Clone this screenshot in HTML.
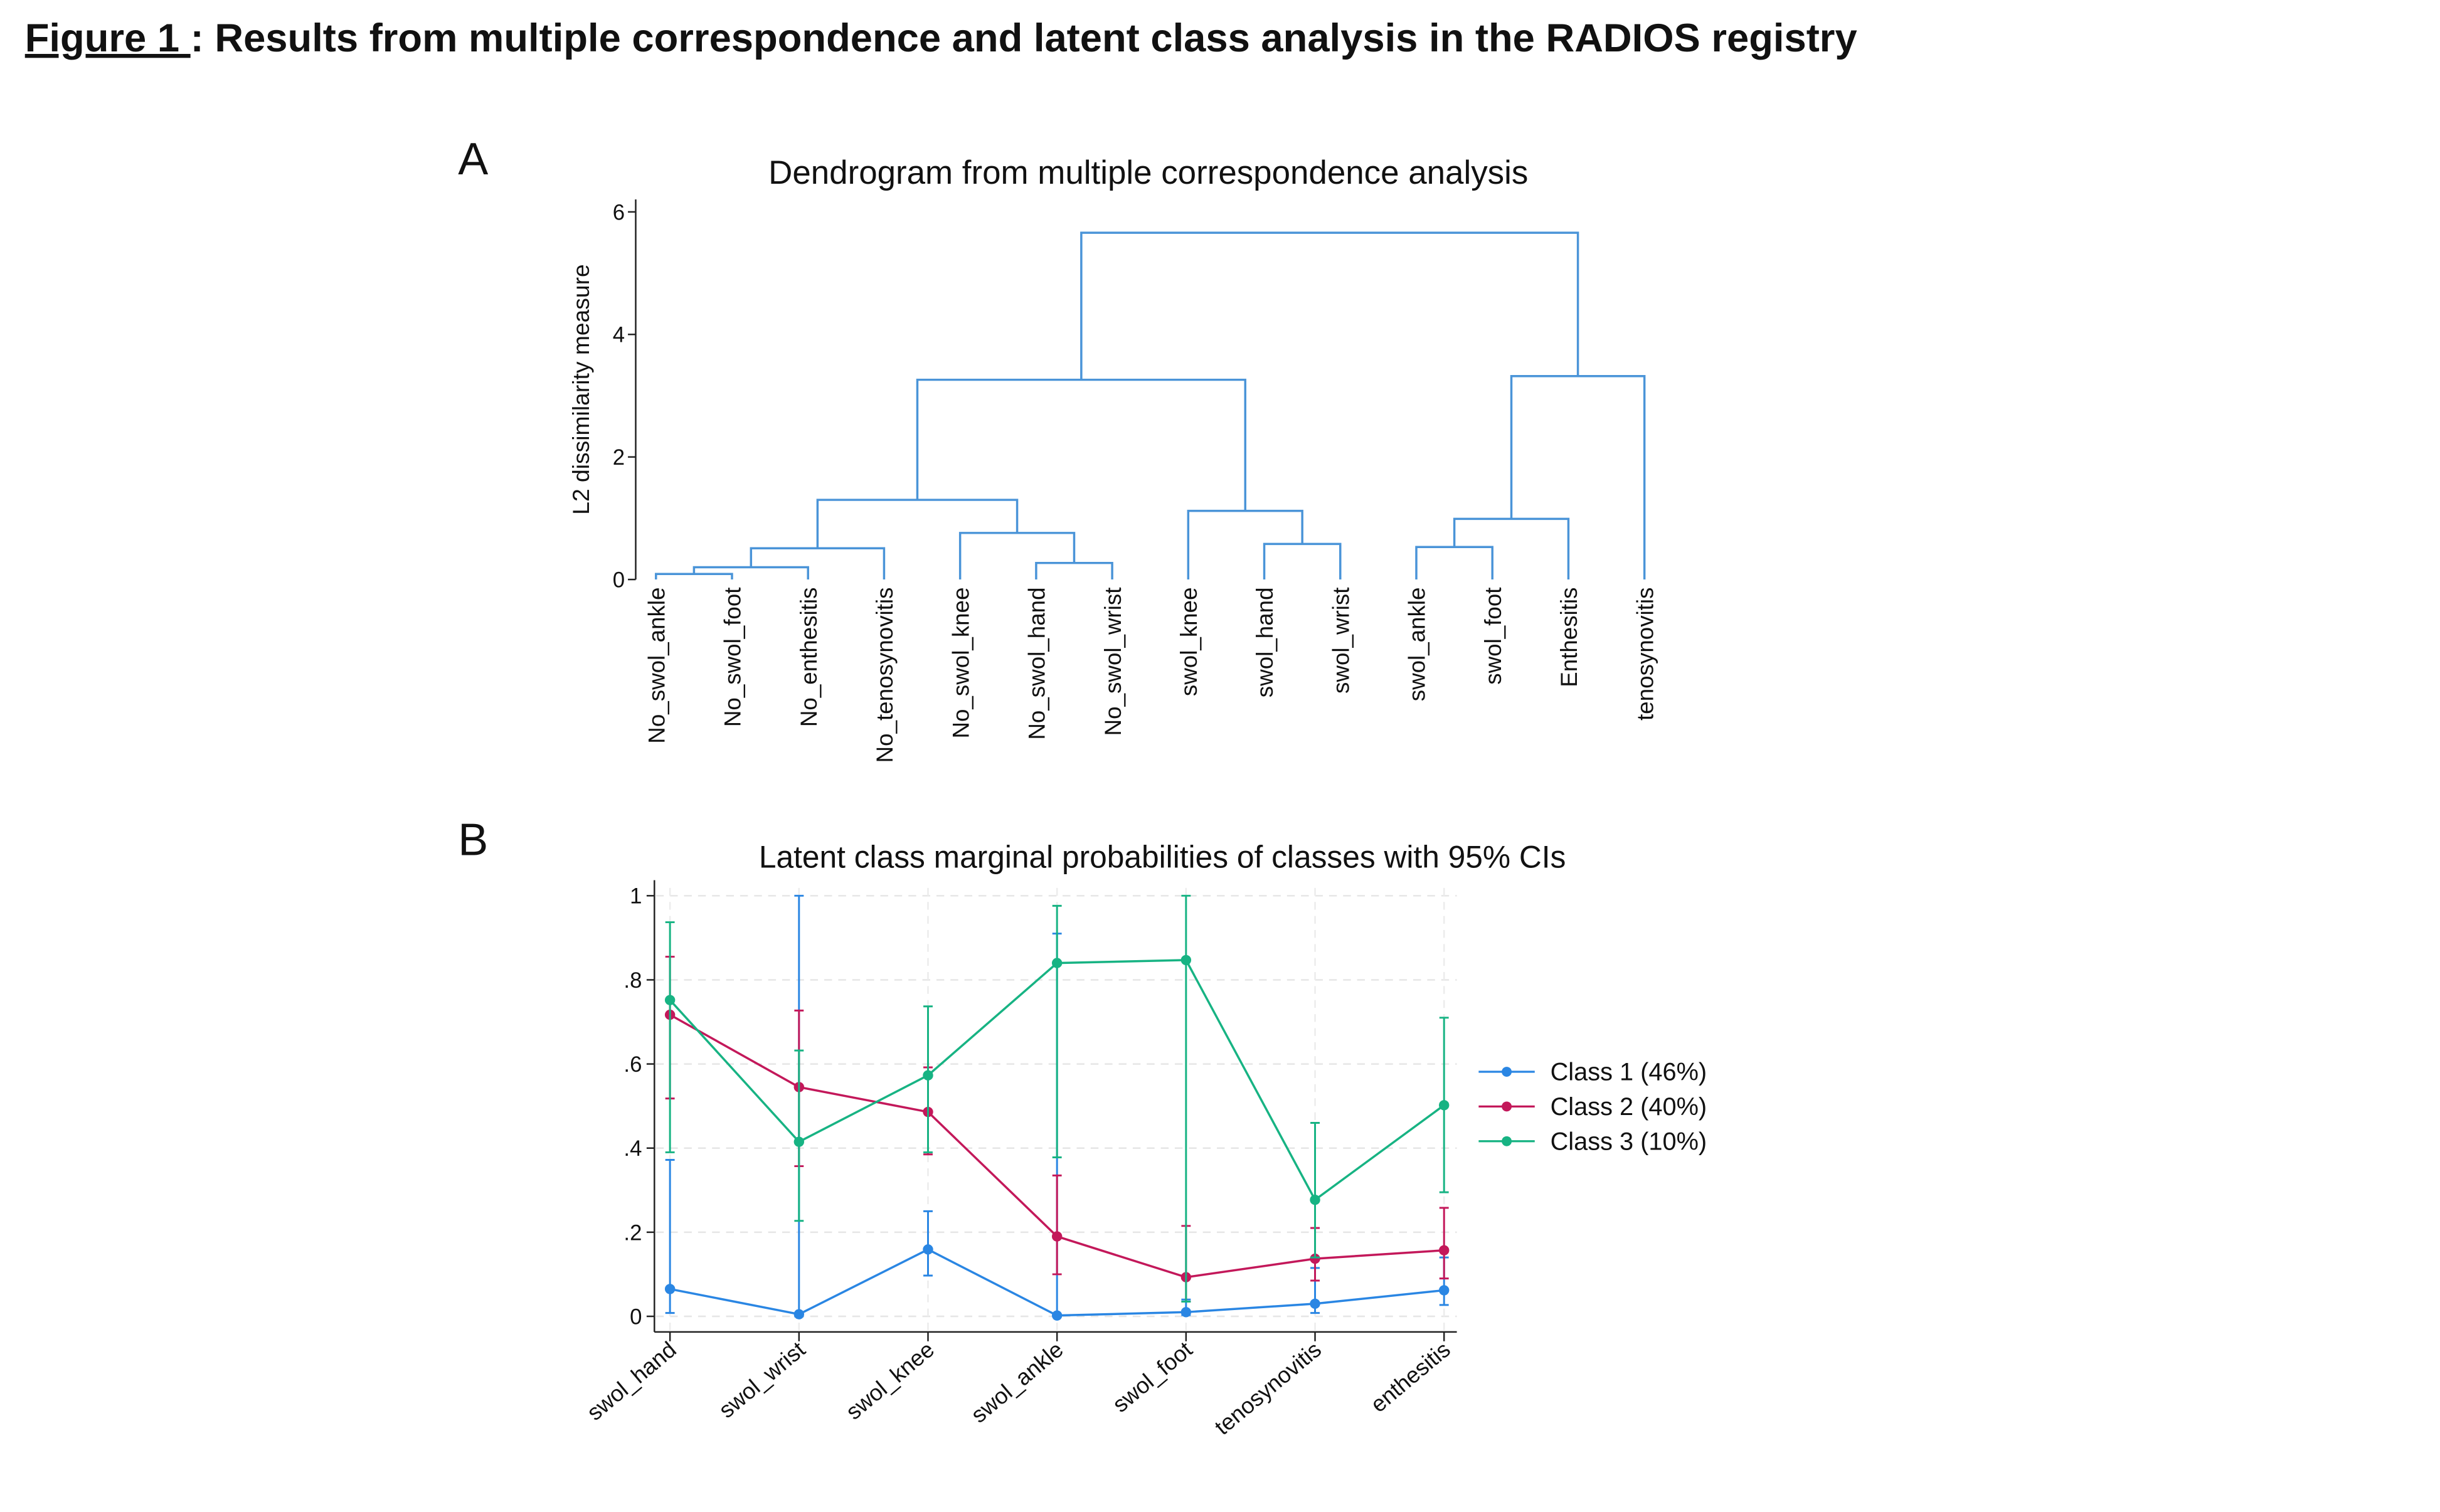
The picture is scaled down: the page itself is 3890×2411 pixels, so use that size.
<!DOCTYPE html>
<html><head><meta charset="utf-8"><style>
html,body{margin:0;padding:0;background:#fff}
svg{display:block}
text{font-family:"Liberation Sans",Arial,sans-serif;fill:#111}
</style></head><body>
<svg id="fig" width="3890" height="2411" viewBox="0 0 1566 970.6" xmlns="http://www.w3.org/2000/svg">
<text x="16" y="33" font-size="25.5" font-weight="bold"><tspan text-decoration="underline">Figure 1 </tspan>: Results from multiple correspondence and latent class analysis in the RADIOS registry</text>
<text x="294" y="112" font-size="29">A</text>
<text x="294" y="549" font-size="29">B</text>
<text x="737" y="118" font-size="21.3" text-anchor="middle">Dendrogram from multiple correspondence analysis</text>
<text x="746" y="557" font-size="20" text-anchor="middle">Latent class marginal probabilities of classes with 95% CIs</text>
<g id="dendro"></g>
<g id="lca"></g>
</svg>
<script>
const NS='http://www.w3.org/2000/svg';
function mk(parent,tag,attrs){const e=document.createElementNS(NS,tag);for(const k in attrs)e.setAttribute(k,attrs[k]);parent.appendChild(e);return e;}

// ---------- Dendrogram data ----------
const leaves=['No_swol_ankle','No_swol_foot','No_enthesitis','No_tenosynovitis','No_swol_knee','No_swol_hand','No_swol_wrist','swol_knee','swol_hand','swol_wrist','swol_ankle','swol_foot','Enthesitis','tenosynovitis'];
// merges: [child A, child B, height]; nodes 0-13 leaves, 14+ merges in order
const mergeA=[0,14,15,5,4,16,8,7,19,10,23,24,22];
const mergeB=[1,2,3,6,17,18,9,20,21,11,12,13,25];
const mergeH=[0.09,0.20,0.51,0.27,0.76,1.30,0.58,1.12,3.26,0.53,0.99,3.32,5.66];
const dTicks=[0,2,4,6];

const dg=document.getElementById('dendro');
const dX0=421,dDX=48.8,dY0=372,dYs=39.33;
const dx=i=>dX0+i*dDX, dy=v=>dY0-v*dYs;
let ax=mk(dg,'line',{x1:408,y1:128,x2:408,y2:dY0,stroke:'#222','stroke-width':1});

dTicks.forEach(t=>{
  const l=mk(dg,'line',{x1:403,y1:dy(t),x2:408,y2:dy(t),stroke:'#222','stroke-width':1});
  
  const tx=mk(dg,'text',{x:401,y:dy(t)+5,'font-size':14,'text-anchor':'end'});tx.textContent=String(t);
  
});
const yt=mk(dg,'text',{x:0,y:0,'font-size':15,'text-anchor':'middle',transform:'translate(378,250) rotate(-90)'});
yt.textContent='L2 dissimilarity measure';

const nodeX=[],nodeH=[];
leaves.forEach((n,i)=>{nodeX[i]=dx(i);nodeH[i]=0;
  const t=mk(dg,'text',{x:0,y:0,'font-size':14.8,'text-anchor':'end',transform:`translate(${dx(i)+5.5},377) rotate(-90)`});t.textContent=n;
  
});
mergeA.forEach((a,k)=>{const b=mergeB[k],h=mergeH[k],id=leaves.length+k;
  const xa=nodeX[a],xb=nodeX[b];
  const p=mk(dg,'path',{d:`M${xa},${dy(nodeH[a])}V${dy(h)}H${xb}V${dy(nodeH[b])}`,fill:'none',stroke:'#4a94d8','stroke-width':1.4});
  
  nodeX[id]=(xa+xb)/2;nodeH[id]=h;
});

// ---------- Latent class data ----------
const cats=['swol_hand','swol_wrist','swol_knee','swol_ankle','swol_foot','tenosynovitis','enthesitis'];
const c1=[0.065,0.005,0.159,0.002,0.010,0.030,0.062];
const c1lo=[0.008,0.0,0.097,0.0,0.003,0.008,0.027];
const c1hi=[0.372,1.0,0.250,0.910,0.040,0.115,0.140];
const c2=[0.717,0.545,0.486,0.190,0.093,0.137,0.157];
const c2lo=[0.518,0.357,0.385,0.100,0.035,0.085,0.090];
const c2hi=[0.855,0.727,0.592,0.335,0.215,0.210,0.258];
const c3=[0.752,0.415,0.573,0.840,0.847,0.277,0.502];
const c3lo=[0.390,0.227,0.390,0.378,0.035,0.140,0.295];
const c3hi=[0.937,0.632,0.737,0.976,1.0,0.460,0.710];
const yTicks=[0,0.2,0.4,0.6,0.8,1];
const yTickLabels=['0','.2','.4','.6','.8','1'];
const legendLabels=['Class 1 (46%)','Class 2 (40%)','Class 3 (10%)'];

const lg=document.getElementById('lca');
const lX0=430,lDX=82.8,lY0=845,lYs=270;
const lx=i=>lX0+i*lDX, ly=v=>lY0-v*lYs;
yTicks.forEach(t=>{const g=mk(lg,'line',{x1:421,x2:935,y1:ly(t),y2:ly(t),stroke:'#e6e6e6','stroke-width':1,'stroke-dasharray':'5,4'});
  });
cats.forEach((c,i)=>{const g=mk(lg,'line',{x1:lx(i),x2:lx(i),y1:570,y2:855,stroke:'#ececec','stroke-width':1,'stroke-dasharray':'5,4'});
  });
let a1=mk(lg,'line',{x1:420,y1:565,x2:420,y2:855,stroke:'#222','stroke-width':1});

let a2=mk(lg,'line',{x1:420,y1:855,x2:935,y2:855,stroke:'#222','stroke-width':1});

yTicks.forEach((t,i)=>{const l=mk(lg,'line',{x1:415,x2:420,y1:ly(t),y2:ly(t),stroke:'#222'});
  
  const tx=mk(lg,'text',{x:412,y:ly(t)+5,'font-size':14,'text-anchor':'end'});tx.textContent=yTickLabels[i];
  });
cats.forEach((c,i)=>{const l=mk(lg,'line',{x1:lx(i),x2:lx(i),y1:855,y2:861,stroke:'#222'});
  
  const tx=mk(lg,'text',{x:0,y:0,'font-size':14.5,'text-anchor':'end',transform:`translate(${lx(i)+5},868) rotate(-40)`});tx.textContent=c;
  });
const series=[[c1,c1lo,c1hi,'#2a86e3'],[c2,c2lo,c2hi,'#c3185a'],[c3,c3lo,c3hi,'#17b383']];
series.forEach((s,si)=>{const [v,lo,hi,col]=s;
  v.forEach((val,i)=>{
    const e=mk(lg,'path',{d:`M${lx(i)},${ly(lo[i])}V${ly(hi[i])}M${lx(i)-3},${ly(lo[i])}H${lx(i)+3}M${lx(i)-3},${ly(hi[i])}H${lx(i)+3}`,stroke:col,'stroke-width':1.2,fill:'none'});
    
  });
  const ln=mk(lg,'polyline',{points:v.map((val,i)=>lx(i)+','+ly(val)).join(' '),fill:'none',stroke:col,'stroke-width':1.4});
  
  v.forEach((val,i)=>{const c=mk(lg,'circle',{cx:lx(i),cy:ly(val),r:3.3,fill:col});
    });
  const ly0=688+si*22.3;
  const ll=mk(lg,'line',{x1:949,x2:985,y1:ly0,y2:ly0,stroke:col,'stroke-width':1.3});
  
  const lc=mk(lg,'circle',{cx:967,cy:ly0,r:3.2,fill:col});
  
  const lt=mk(lg,'text',{x:995,y:ly0+5.5,'font-size':16});lt.textContent=legendLabels[si];
  
});
</script>
</body></html>
